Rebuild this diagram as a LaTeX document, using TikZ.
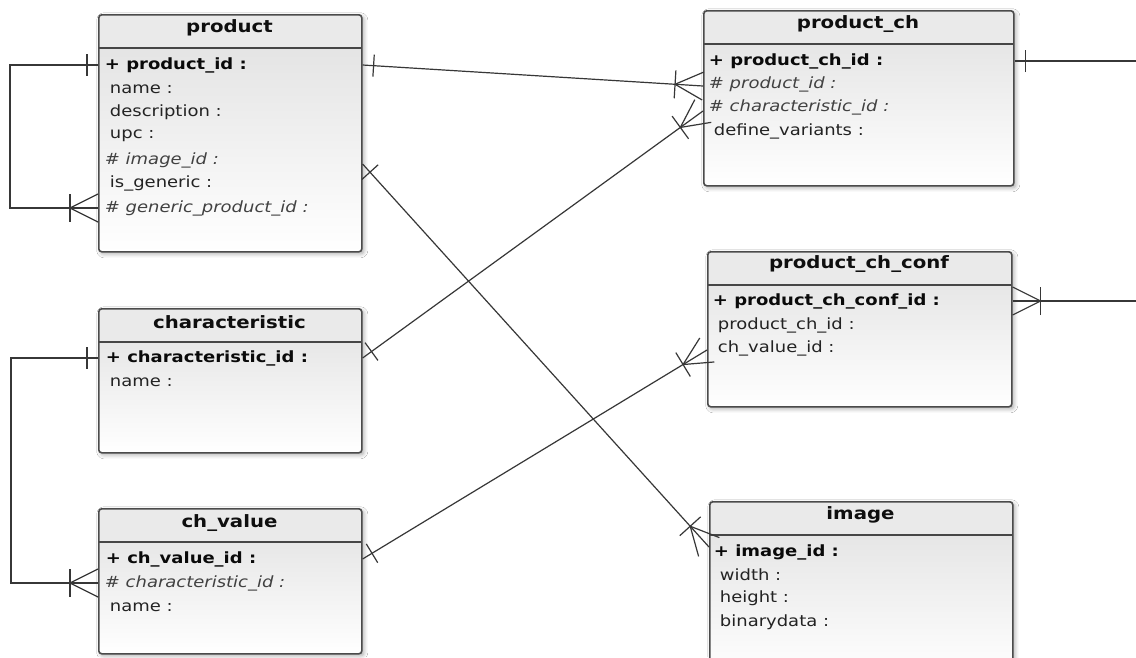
\documentclass[tikz,border=0pt]{standalone}
\usepackage{fontspec}
\setmainfont{DejaVu Sans}[FakeStretch=1.16]
\usepackage{tikz}
\usetikzlibrary{calc,shadows.blur}

% bar across the line, a little way from #1 towards #2
\newcommand{\erbar}[2]{%
  \draw[link] ($(#1)!11pt!(#2)!11pt!90:(#2)$) -- ($(#1)!11pt!(#2)!11pt!-90:(#2)$);}
% crow's foot with bar at #1, line coming from #2
\newcommand{\ercrow}[2]{%
  \coordinate (tip) at ($(#1)!28pt!(#2)$);
  \draw[link] (tip) -- ($(#1)!14pt!90:(#2)$);
  \draw[link] (tip) -- ($(#1)!14pt!-90:(#2)$);
  \draw[link] ($(tip)!14pt!90:(#2)$) -- ($(tip)!14pt!-90:(#2)$);}

\begin{document}
\begin{tikzpicture}[x=1pt,y=1pt,yscale=-1,xscale=1,
  hdr/.style={fill={rgb, 255:red, 234; green, 234; blue, 234 }},
  sep/.style={draw={rgb, 255:red, 70; green, 70; blue, 70 }, line width=1.5pt},
  tbl/.style={draw={rgb, 255:red, 75; green, 75; blue, 75 }, line width=1.6pt, rounded corners=3pt,
    anchor=north west, inner sep=0pt,
    top color={rgb, 255:red, 224; green, 224; blue, 224 }, bottom color=white,
    blur shadow={shadow xshift=2pt, shadow yshift=-2pt, shadow blur radius=4pt, shadow opacity=35},
    path picture={
      \fill[hdr] (path picture bounding box.north west) rectangle
        ($(path picture bounding box.north east)!33pt!(path picture bounding box.south east)$);
      \draw[sep] ($(path picture bounding box.north west)!33pt!(path picture bounding box.south west)$) --
        ($(path picture bounding box.north east)!33pt!(path picture bounding box.south east)$);}},
  ttl/.style={inner sep=0.75pt, font=\fontsize{17}{20}\selectfont\bfseries, text={rgb, 255:red, 15; green, 15; blue, 15 }},
  pk/.style={anchor=west, inner sep=0.75pt, font=\fontsize{15.5}{18}\selectfont\bfseries, text={rgb, 255:red, 10; green, 10; blue, 10 }},
  fk/.style={anchor=west, inner sep=0.75pt, font=\fontsize{15.5}{18}\selectfont\itshape, text={rgb, 255:red, 65; green, 65; blue, 65 }},
  att/.style={anchor=west, inner sep=0.75pt, font=\fontsize{15.5}{18}\selectfont, text={rgb, 255:red, 35; green, 35; blue, 35 }},
  link/.style={draw={rgb, 255:red, 55; green, 55; blue, 55 }, line width=1.2pt}
]
\path[fill=white] (0,0) rectangle (1136,657);
\useasboundingbox (0,0) rectangle (1136,657);

%Shape: Table [id:product]
\node[tbl, minimum width=263, minimum height=237] (product) at (98,14) {};
% Text Node
\node[ttl] (product-t) at (229.5,28) {product};
\node[pk] (p-id) at (104,65) {+ product\_id :};
\node[att] (p-name) at (109,89) {name :};
\node[att] (p-desc) at (109,112) {description :};
\node[att] (p-upc) at (109,136) {upc :};
\node[fk] (p-img) at (104,160) {\# image\_id :};
\node[att] (p-gen) at (109,183) {is\_generic :};
\node[fk] (p-gid) at (104,208) {\# generic\_product\_id :};

%Shape: Table [id:product_ch]
\node[tbl, minimum width=310, minimum height=175] (pch) at (703,10) {};
% Text Node
\node[ttl] (pch-t) at (858,24) {product\_ch};
\node[pk] (pch-id) at (708,61) {+ product\_ch\_id :};
\node[fk] (pch-pid) at (708,84) {\# product\_id :};
\node[fk] (pch-cid) at (708,107) {\# characteristic\_id :};
\node[att] (pch-var) at (713,131) {define\_variants :};

%Shape: Table [id:product_ch_conf]
\node[tbl, minimum width=304, minimum height=155] (conf) at (707,251) {};
% Text Node
\node[ttl] (conf-t) at (859,264) {product\_ch\_conf};
\node[pk] (conf-id) at (712,301) {+ product\_ch\_conf\_id :};
\node[att] (conf-pch) at (717,325) {product\_ch\_id :};
\node[att] (conf-vid) at (717,348) {ch\_value\_id :};

%Shape: Table [id:characteristic]
\node[tbl, minimum width=263, minimum height=144] (chr) at (98,308) {};
% Text Node
\node[ttl] (chr-t) at (229.5,322) {characteristic};
\node[pk] (chr-id) at (105,358) {+ characteristic\_id :};
\node[att] (chr-name) at (109,382) {name :};

%Shape: Table [id:ch_value]
\node[tbl, minimum width=263, minimum height=145] (val) at (98,508) {};
% Text Node
\node[ttl] (val-t) at (229.5,523) {ch\_value};
\node[pk] (val-id) at (105,559) {+ ch\_value\_id :};
\node[fk] (val-cid) at (104,583) {\# characteristic\_id :};
\node[att] (val-name) at (109,607) {name :};

%Shape: Table [id:image]
\node[tbl, minimum width=303, minimum height=175] (image) at (709,501) {};
% Text Node
\node[ttl] (image-t) at (860.5,515) {image};
\node[pk] (i-id) at (713,552) {+ image\_id :};
\node[att] (i-w) at (719,575) {width :};
\node[att] (i-h) at (719,598) {height :};
\node[att] (i-bin) at (719,622) {binarydata :};

%Straight Lines: product -- product (generic)
\coordinate (l1a) at (product.west |- p-id);
\coordinate (l1b) at (product.west |- p-gid);
\coordinate (l1c) at ($(l1a)+(-88,0)$);
\coordinate (l1d) at (l1c |- l1b);
\draw[link] (l1a) -- (l1c) -- (l1d) -- (l1b);
\erbar{l1a}{l1c}
\ercrow{l1b}{l1d}

%Straight Lines: product -- product_ch
\coordinate (l2a) at (product.east |- p-id);
\coordinate (l2b) at ($(pch.west |- pch-pid)+(0,2)$);
\draw[link] (l2a) -- (l2b);
\erbar{l2a}{l2b}
\ercrow{l2b}{l2a}

%Straight Lines: characteristic -- product_ch
\coordinate (l3a) at (chr.east |- chr-id);
\coordinate (l3b) at ($(pch.west |- pch-cid)+(0,4)$);
\draw[link] (l3a) -- (l3b);
\erbar{l3a}{l3b}
\ercrow{l3b}{l3a}

%Straight Lines: product -- image
\coordinate (l4a) at ($(product.east |- p-img)+(0,4)$);
\coordinate (l4b) at ($(image.west |- i-id)+(0,-5)$);
\draw[link] (l4a) -- (l4b);
\erbar{l4a}{l4b}
\ercrow{l4b}{l4a}

%Straight Lines: characteristic -- ch_value
\coordinate (l5a) at (chr.west |- chr-id);
\coordinate (l5b) at (val.west |- val-cid);
\coordinate (l5c) at ($(l5a)+(-87,0)$);
\coordinate (l5d) at (l5c |- l5b);
\draw[link] (l5a) -- (l5c) -- (l5d) -- (l5b);
\erbar{l5a}{l5c}
\ercrow{l5b}{l5d}

%Straight Lines: ch_value -- product_ch_conf
\coordinate (l6a) at (val.east |- val-id);
\coordinate (l6b) at ($(conf.west |- conf-vid)+(0,2)$);
\draw[link] (l6a) -- (l6b);
\erbar{l6a}{l6b}
\ercrow{l6b}{l6a}

%Straight Lines: product_ch -- (off page)
\coordinate (l7a) at (pch.east |- pch-id);
\coordinate (l7b) at (1136,61);
\draw[link] (l7a) -- (l7b);
\erbar{l7a}{l7b}

%Straight Lines: product_ch_conf -- (off page)
\coordinate (l8a) at (conf.east |- conf-id);
\coordinate (l8b) at (1136,301);
\draw[link] (l8a) -- (l8b);
\ercrow{l8a}{l8b}

\end{tikzpicture}
\end{document}
